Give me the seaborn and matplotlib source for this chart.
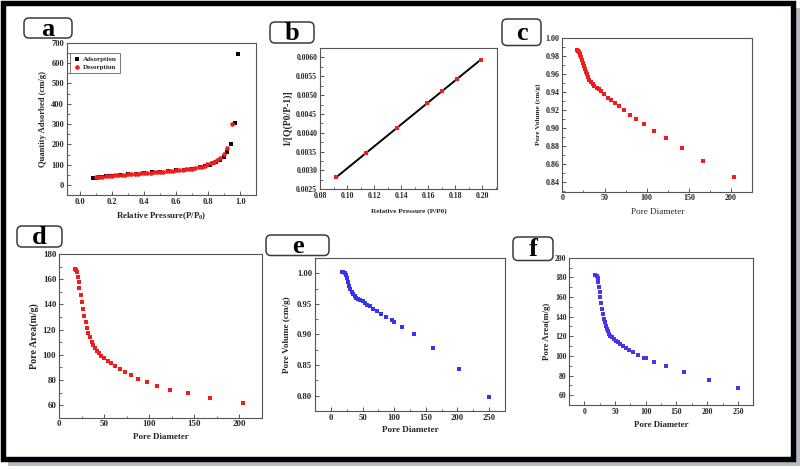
import matplotlib
matplotlib.use("Agg")
import matplotlib.pyplot as plt
import seaborn as sns
import numpy as np
import pandas as pd
from matplotlib.patches import Rectangle, FancyBboxPatch
from matplotlib.ticker import FormatStrFormatter, MultipleLocator

# ---------------- data ----------------
# (a) isotherm
ads_p = [0.08, 0.10, 0.12, 0.14, 0.16, 0.18, 0.20, 0.25, 0.30, 0.35, 0.40, 0.45, 0.50,
         0.55, 0.60, 0.65, 0.70, 0.75, 0.78, 0.81, 0.83, 0.85, 0.873, 0.896, 0.919,
         0.944, 0.967, 0.988]
ads_q = [34, 37, 39, 41, 43, 45, 46, 50, 53, 56, 59, 62, 65, 68, 72, 76, 81, 88, 93,
         100, 106, 114, 125, 140, 162, 204, 303, 645]
des_p = [0.10, 0.12, 0.14, 0.16, 0.18, 0.20, 0.22, 0.24, 0.26, 0.28, 0.30, 0.32, 0.34,
         0.36, 0.38, 0.40, 0.42, 0.44, 0.46, 0.48, 0.50, 0.52, 0.54, 0.56, 0.58, 0.60,
         0.62, 0.64, 0.66, 0.68, 0.70, 0.72, 0.74, 0.76, 0.78, 0.795, 0.815, 0.835,
         0.855, 0.875, 0.897, 0.917, 0.948]
des_q = [38, 40, 41, 43, 44, 46, 47, 48, 50, 51, 53, 54, 55, 56, 57, 59, 60, 61, 62, 63,
         65, 66, 67, 69, 70, 72, 73, 75, 77, 79, 81, 84, 87, 91, 96, 101, 106, 113, 122,
         135, 155, 183, 300]

# (b) BET plot
bet_p = [0.092, 0.114, 0.137, 0.159, 0.170, 0.181, 0.199]
bet_y = [0.00282, 0.00347, 0.00412, 0.00478, 0.00511, 0.00543, 0.00594]

# (c) pore volume
c_d = [17.8, 18.6, 19.5, 20.5, 21.5, 22.5, 23.5, 24.5, 25.5, 26.5, 27.5, 29.0, 30.5,
       32.0, 34.0, 36.0, 38.0, 40.5, 43.0, 46.0, 49.5, 53.8, 57.7, 62.0, 67.2, 73.1,
       79.8, 87.4, 96.8, 108.3, 122.5, 141.9, 166.4, 203.6]
c_v = [0.987, 0.986, 0.985, 0.983, 0.981, 0.979, 0.976, 0.973, 0.969, 0.966, 0.963,
       0.960, 0.957, 0.954, 0.951, 0.949, 0.947, 0.945, 0.943, 0.941, 0.938, 0.934,
       0.931, 0.928, 0.924, 0.920, 0.915, 0.910, 0.904, 0.897, 0.889, 0.8775, 0.863,
       0.845]

# (d) pore area
d_d = [17.4, 18.9, 20.0, 20.7, 21.8, 22.6, 24.0, 25.1, 26.6, 28.1, 29.6, 31.1, 32.5,
       34.4, 36.2, 38.1, 39.9, 42.1, 44.4, 46.9, 49.9, 54.0, 58.0, 62.1, 67.3, 72.8,
       79.9, 87.6, 97.2, 108.7, 123.5, 142.7, 167.8, 204.4]
d_a = [168.1, 167.3, 165.4, 161.5, 157.8, 152.7, 147.4, 142.1, 136.3, 130.7, 125.7,
       121.2, 117.5, 113.8, 110.3, 107.7, 105.3, 103.2, 101.1, 98.9, 97.4, 95.2, 93.4,
       91.0, 88.3, 86.2, 83.6, 80.9, 78.3, 75.4, 72.2, 69.3, 65.6, 61.3]

# (e) pore volume
e_d = [16.9, 19.5, 22.2, 23.7, 25.3, 26.9, 28.5, 30.6, 32.7, 34.8, 37.4, 40.1, 43.2,
       46.4, 50.1, 53.8, 57.5, 61.7, 67.0, 72.3, 78.6, 87.0, 96.0, 99.2, 112.9, 131.9,
       161.4, 203.0, 250.0]
e_v = [1.002, 1.0016, 1.000, 0.997, 0.992, 0.986, 0.980, 0.974, 0.970, 0.966, 0.963,
       0.960, 0.958, 0.956, 0.954, 0.9515, 0.949, 0.9466, 0.9422, 0.939, 0.934, 0.929,
       0.923, 0.921, 0.912, 0.900, 0.878, 0.844, 0.798]

# (f) pore area
f_d = [17.9, 20.0, 21.7, 22.8, 23.9, 25.0, 26.0, 27.1, 28.7, 29.8, 31.5, 33.1, 34.7,
       36.3, 38.0, 40.1, 42.3, 45.0, 47.7, 50.9, 54.2, 58.0, 62.4, 67.2, 73.2, 79.7,
       87.9, 97.0, 100.3, 113.3, 132.3, 161.6, 203.4, 250.0]
f_a = [182.0, 181.7, 179.0, 174.9, 169.8, 165.1, 159.7, 153.6, 148.1, 142.7, 138.0,
       134.2, 130.8, 127.8, 125.1, 122.7, 120.7, 119.0, 117.3, 115.6, 113.9, 112.2,
       110.2, 108.5, 105.8, 103.7, 101.0, 98.3, 97.6, 94.2, 90.2, 84.1, 75.9, 67.8]

panel_letters = ["a", "b", "c", "d", "e", "f"]

# ---------------- style ----------------
sns.set_style("ticks")
plt.rcParams['font.family'] = ['Liberation Serif', 'DejaVu Serif']
plt.rcParams['font.weight'] = 'bold'
plt.rcParams['axes.labelweight'] = 'bold'
plt.rcParams['axes.edgecolor'] = '#555555'
plt.rcParams['axes.linewidth'] = 0.8
plt.rcParams['mathtext.fontset'] = 'custom'
plt.rcParams['mathtext.rm'] = 'Liberation Serif:bold'
plt.rcParams['mathtext.it'] = 'Liberation Serif:bold'
plt.rcParams['mathtext.bf'] = 'Liberation Serif:bold'

W, H = 805, 470
fig = plt.figure(figsize=(W / 100, H / 100), dpi=100)
fig.patch.set_facecolor('white')

bg = fig.add_axes([0, 0, 1, 1])
bg.set_xlim(0, W)
bg.set_ylim(H, 0)
bg.axis('off')

# shadow + frame
bg.add_patch(Rectangle((795, 8), 4.5, 458, color='#b4bcc4', lw=0))
bg.add_patch(Rectangle((8, 461.5), 791, 4.5, color='#b4bcc4', lw=0))
bg.add_patch(Rectangle((2.6, 3.0), 790.2, 455.8, fill=False, ec='black', lw=3.9))

# label boxes (x0, y0, x1, y1) in px
boxes = [(24, 18, 72, 38), (270, 22, 314, 43), (502, 19, 541, 45.5),
         (17, 226, 62, 247), (266, 235, 329, 255.5), (513, 237, 553, 260.5)]
for (x0, y0, x1, y1), letter in zip(boxes, panel_letters):
    bg.add_patch(FancyBboxPatch((x0, y0), x1 - x0, y1 - y0,
                                boxstyle="round,pad=0,rounding_size=5",
                                fc='white', ec='#3a3a3a', lw=1.1))
    bg.text((x0 + x1) / 2, (y0 + y1) / 2 + 1, letter, ha='center', va='center',
            fontsize=19, fontweight='bold', color='black')


def ax_px(left, top, right, bottom):
    return fig.add_axes([left / W, 1 - bottom / H, (right - left) / W, (bottom - top) / H])


def style(ax, tsize):
    ax.tick_params(which='major', direction='in', length=3, width=0.7,
                   labelsize=tsize, color='#555555', pad=2)
    ax.tick_params(which='minor', direction='in', length=1.8, width=0.6, color='#555555')
    for lab in ax.get_xticklabels() + ax.get_yticklabels():
        lab.set_fontweight('bold')
    for s in ax.spines.values():
        s.set_visible(True)
        s.set_color('#555555')


RED = '#f21c1c'
BLUE = '#3535ee'
VIOLET = '#4634ee'
MS = 8

# ---- (a)
ax = ax_px(66.7, 42.7, 256, 195)
sns.scatterplot(x=ads_p, y=ads_q, marker='s', color='black', s=9, linewidth=0,
                label='Adsorption', ax=ax, zorder=3)
sns.scatterplot(x=des_p, y=des_q, marker='o', color=RED, s=11, linewidth=0,
                label='Desorption', ax=ax, zorder=4)
ax.set_xlim(-0.083, 1.098)
ax.set_ylim(-49, 700)
ax.xaxis.set_major_locator(MultipleLocator(0.2))
ax.xaxis.set_minor_locator(MultipleLocator(0.1))
ax.yaxis.set_major_locator(MultipleLocator(100))
ax.yaxis.set_minor_locator(MultipleLocator(50))
ax.xaxis.set_major_formatter(FormatStrFormatter('%.1f'))
ax.set_xlabel(r'Relative Pressure(P/P$_0$)', fontsize=6.4, labelpad=3)
ax.set_ylabel('Quantity Adsorbed (cm/g)', fontsize=6.2, labelpad=3)
style(ax, 6)
leg = ax.legend(loc='upper left', bbox_to_anchor=(0.017, 0.932), borderaxespad=0,
                prop={'family': 'Liberation Serif', 'weight': 'bold', 'size': 5},
                frameon=True, fancybox=False, edgecolor='#555555', handletextpad=0.3,
                borderpad=0.4, labelspacing=0.35, handlelength=1.2, markerscale=1.0)
leg.get_frame().set_linewidth(0.7)

# ---- (b)
ax = ax_px(320, 47.7, 497.3, 189.3)
sns.regplot(x=bet_p, y=bet_y, scatter=False, ci=None, color='black',
            line_kws={'lw': 1.4}, ax=ax)
sns.scatterplot(x=bet_p, y=bet_y, marker='s', color=RED, s=MS, linewidth=0, ax=ax, zorder=4)
ax.set_xlim(0.08, 0.211)
ax.set_ylim(0.0025, 0.00626)
ax.xaxis.set_major_locator(MultipleLocator(0.02))
ax.xaxis.set_minor_locator(MultipleLocator(0.01))
ax.yaxis.set_major_locator(MultipleLocator(0.0005))
ax.yaxis.set_minor_locator(MultipleLocator(0.00025))
ax.xaxis.set_major_formatter(FormatStrFormatter('%.2f'))
ax.yaxis.set_major_formatter(FormatStrFormatter('%.4f'))
ax.set_xlabel('Relative Pressure (P/P0)', fontsize=5.2, labelpad=6)
ax.set_ylabel('1/[Q(P0/P-1)]', fontsize=7, labelpad=3)
style(ax, 5.6)

# ---- (c)
ax = ax_px(562.3, 37.7, 752.3, 191.7)
sns.scatterplot(x=c_d, y=c_v, marker='s', color=RED, s=MS, linewidth=0, ax=ax)
ax.set_xlim(0, 225)
ax.set_ylim(0.829, 1.0007)
ax.xaxis.set_major_locator(MultipleLocator(50))
ax.xaxis.set_minor_locator(MultipleLocator(25))
ax.yaxis.set_major_locator(MultipleLocator(0.02))
ax.yaxis.set_minor_locator(MultipleLocator(0.01))
ax.yaxis.set_major_formatter(FormatStrFormatter('%.2f'))
ax.set_xlabel('Pore Diameter', fontsize=6.6, fontweight='normal', labelpad=4)
ax.set_ylabel('Pore Volume (cm/g)', fontsize=5.2, labelpad=3)
style(ax, 5.8)

# ---- (d)
ax = ax_px(59, 254, 262.3, 417.7)
sns.scatterplot(x=d_d, y=d_a, marker='s', color=RED, s=MS + 1, linewidth=0, ax=ax)
ax.set_xlim(0, 225.5)
ax.set_ylim(50, 180)
ax.xaxis.set_major_locator(MultipleLocator(50))
ax.xaxis.set_minor_locator(MultipleLocator(25))
ax.yaxis.set_major_locator(MultipleLocator(20))
ax.yaxis.set_minor_locator(MultipleLocator(10))
ax.set_xlabel('Pore Diameter', fontsize=6.5, labelpad=3)
ax.set_ylabel('Pore Area(m/g)', fontsize=7.2, labelpad=3)
style(ax, 6.4)

# ---- (e)
ax = ax_px(315, 258.3, 505, 411)
sns.scatterplot(x=e_d, y=e_v, marker='s', color=BLUE, s=MS, linewidth=0, ax=ax)
ax.set_xlim(-25.3, 275.3)
ax.set_ylim(0.775, 1.0245)
ax.xaxis.set_major_locator(MultipleLocator(50))
ax.xaxis.set_minor_locator(MultipleLocator(25))
ax.yaxis.set_major_locator(MultipleLocator(0.05))
ax.yaxis.set_minor_locator(MultipleLocator(0.025))
ax.yaxis.set_major_formatter(FormatStrFormatter('%.2f'))
ax.set_xlabel('Pore Diameter', fontsize=6.6, labelpad=3)
ax.set_ylabel('Pore Volume (cm/g)', fontsize=6.6, labelpad=4)
style(ax, 6.2)

# ---- (f)
ax = ax_px(569.3, 257.7, 753.3, 405)
sns.scatterplot(x=f_d, y=f_a, marker='s', color=VIOLET, s=MS, linewidth=0, ax=ax)
ax.set_xlim(-24.4, 275)
ax.set_ylim(50, 200)
ax.xaxis.set_major_locator(MultipleLocator(50))
ax.xaxis.set_minor_locator(MultipleLocator(25))
ax.yaxis.set_major_locator(MultipleLocator(20))
ax.yaxis.set_minor_locator(MultipleLocator(10))
ax.set_xlabel('Pore Diameter', fontsize=6.3, labelpad=4)
ax.set_ylabel('Pore Area(m/g)', fontsize=6.3, labelpad=3)
style(ax, 5.6)

fig.savefig('out.png', dpi=100, facecolor='white')
